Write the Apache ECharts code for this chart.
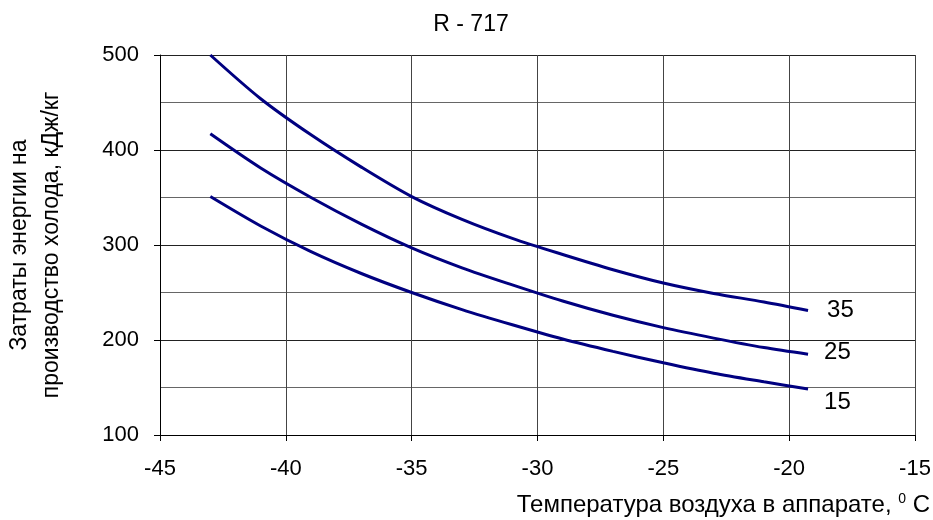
<!DOCTYPE html>
<html><head><meta charset="utf-8">
<script src="https://cdn.jsdelivr.net/npm/echarts@6/dist/echarts.min.js"></script>
<style>html,body{margin:0;padding:0;background:#fff}#c{width:933px;height:520px}</style>
</head><body><div id="c"></div>
<script>
var temps = [-43, -41, -39, -37, -35, -33, -31, -29, -27, -25, -23, -21, -19.25];
var s35 = [500, 454, 416, 382, 351, 327, 307, 290, 274, 260, 249, 240, 231];
var s25 = [417, 381, 350, 322, 297, 276, 258, 241, 226, 213, 202, 192, 185];
var s15 = [351, 320, 293, 270, 250, 232, 216, 201, 188, 176, 165, 156, 148.5];
var seriesNames = ['35', '25', '15'];
var xTicks = [-45, -40, -35, -30, -25, -20, -15];
var yTicks = [100, 200, 300, 400, 500];
var title = 'R - 717';
var yName = 'Затраты энергии на\nпроизводство холода, кДж/кг';
var xName = 'Температура воздуха в аппарате, ';

function pairs(ys){ return temps.map(function(t,i){ return [t, ys[i]]; }); }
var font = '"Liberation Sans", Arial, sans-serif';
var chart = echarts.init(document.getElementById('c'));
function mk(name, ys, off){
  return {
    name: name, type: 'line', data: pairs(ys), smooth: 0.3, showSymbol: false,
    lineStyle: {color: '#000080', width: 3}, itemStyle: {color: '#000080'},
    endLabel: {show: true, formatter: name, offset: off, color: '#000', fontSize: 24, fontFamily: font},
    animation: false
  };
}
chart.setOption({
  animation: false,
  title: {text: title, left: 466, top: 8, textAlign: 'center',
    textStyle: {fontSize: 23, fontWeight: 'normal', color: '#000', fontFamily: font}},
  grid: {left: 160, right: 18, top: 55, bottom: 85, containLabel: false, outerBoundsMode: 'none'},
  xAxis: {type: 'value', min: xTicks[0], max: xTicks[xTicks.length-1], interval: 5,
    axisLine: {lineStyle: {color: '#000', width: 1}},
    axisTick: {show: true, inside: false, length: 6, lineStyle: {color: '#000'}},
    axisLabel: {color: '#000', fontSize: 22, margin: 23, fontFamily: font},
    splitLine: {show: true, lineStyle: {color: '#444', width: 1}}},
  yAxis: {type: 'value', min: yTicks[0], max: yTicks[yTicks.length-1], interval: 100,
    name: yName, nameLocation: 'middle', nameGap: 92, nameRotate: 90,
    nameTextStyle: {color: '#000', fontSize: 23, fontFamily: font, lineHeight: 32},
    axisLine: {show: true, lineStyle: {color: '#000', width: 1}},
    axisTick: {show: true, inside: false, length: 6, lineStyle: {color: '#000'}},
    minorTick: {show: false, splitNumber: 2},
    minorSplitLine: {show: true, lineStyle: {color: '#666', width: 1}},
    axisLabel: {color: '#000', fontSize: 22, margin: 21, fontFamily: font},
    splitLine: {show: true, lineStyle: {color: '#222', width: 1}}},
  graphic: [{type: 'text', right: 3, top: 492,
    style: {text: xName + '{s|0} C',
      rich: {s: {fontSize: 14, verticalAlign: 'top', padding: [0,0,12,0], fontFamily: font, fill: '#000'}},
      font: '24px ' + font, fill: '#000'}}],
  series: [mk(seriesNames[0], s35, [11, 0]), mk(seriesNames[1], s25, [8, -2]), mk(seriesNames[2], s15, [8, 13])]
});
</script></body></html>
